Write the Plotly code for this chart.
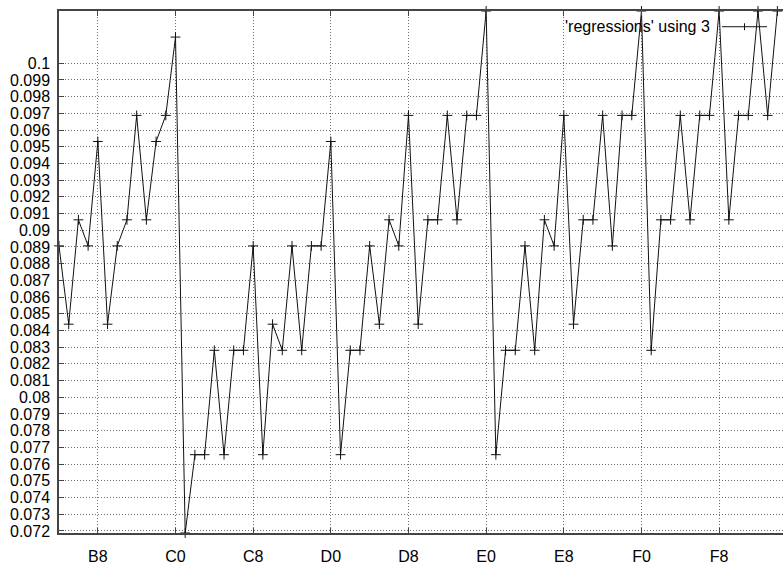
import numpy as np
import plotly.graph_objects as go

# ---- data ----
x_values = list(range(180, 255))  # 0xB4 .. 0xFE
y_values = [
    0.089063, 0.084375, 0.090625, 0.089063, 0.095313, 0.084375, 0.089063, 0.090625,
    0.096875, 0.090625, 0.095313, 0.096875, 0.101563, 0.071875, 0.076563, 0.076563,
    0.082813, 0.076563, 0.082813, 0.082813, 0.089063, 0.076563, 0.084375, 0.082813,
    0.089063, 0.082813, 0.089063, 0.089063, 0.095313, 0.076563, 0.082813, 0.082813,
    0.089063, 0.084375, 0.090625, 0.089063, 0.096875, 0.084375, 0.090625, 0.090625,
    0.096875, 0.090625, 0.096875, 0.096875, 0.103125, 0.076563, 0.082813, 0.082813,
    0.089063, 0.082813, 0.090625, 0.089063, 0.096875, 0.084375, 0.090625, 0.090625,
    0.096875, 0.089063, 0.096875, 0.096875, 0.103125, 0.082813, 0.090625, 0.090625,
    0.096875, 0.090625, 0.096875, 0.096875, 0.103125, 0.090625, 0.096875, 0.096875,
    0.103125, 0.096875, 0.103125,
]
x_tick_vals = [184, 192, 200, 208, 216, 224, 232, 240, 248]
x_tick_text = ["B8", "C0", "C8", "D0", "D8", "E0", "E8", "F0", "F8"]
y_tick_vals = [round(0.072 + 0.001 * i, 3) for i in range(29)]
y_tick_text = ["%g" % v for v in y_tick_vals]
series_name = "'regressions' using 3"

W, H = 783, 565
L, R, T, B = 59, 0, 11, 23
FONT = dict(family="Liberation Sans, Arial, sans-serif", size=16, color="#000000")

fig = go.Figure()
fig.add_trace(go.Scatter(
    x=x_values, y=y_values, mode="lines+markers", name=series_name,
    line=dict(color="#111111", width=1),
    marker=dict(symbol="cross-thin", size=7, line=dict(color="#111111", width=1)),
    cliponaxis=False, showlegend=False,
))

grid = dict(showgrid=True, gridcolor="#6e6e6e", gridwidth=1, griddash="1px,2px")
fig.update_xaxes(
    range=[180, 180 + (W - L - R) / 9.708],
    tickmode="array", tickvals=x_tick_vals, ticktext=x_tick_text,
    ticks="inside", ticklen=5, tickcolor="#444", tickwidth=1,
    showline=True, linecolor="#444", linewidth=1.5, mirror="ticks",
    zeroline=False, tickfont=FONT, ticklabelstandoff=8, **grid,
)
fig.update_yaxes(
    range=[0.071875, 0.103125],
    tickmode="array", tickvals=y_tick_vals, ticktext=y_tick_text,
    ticks="inside", ticklen=5, tickcolor="#444", tickwidth=1,
    showline=True, linecolor="#444", linewidth=1.5, mirror=False,
    zeroline=False, tickfont=FONT, ticklabelstandoff=4, **grid,
)

# gnuplot-style key: text right-justified, then the sample
pw, ph = W - L - R, H - T - B
def px(xp):
    return (xp - L) / pw
def py(yp):
    return 1 - (yp - T) / ph

key_y = py(27)
fig.add_annotation(x=px(712), y=key_y, xref="paper", yref="paper", text=series_name,
                   showarrow=False, xanchor="right", yanchor="middle", font=FONT)
fig.add_shape(type="line", xref="paper", yref="paper", x0=px(722), x1=px(767), y0=key_y, y1=key_y,
              line=dict(color="#111111", width=1))
fig.add_shape(type="line", xref="paper", yref="paper", x0=px(744.5), x1=px(744.5),
              y0=py(23.5), y1=py(30.5), line=dict(color="#111111", width=1))

fig.update_layout(
    width=W, height=H, margin=dict(l=L, r=R, t=T, b=B, pad=0),
    paper_bgcolor="white", plot_bgcolor="white", font=FONT, showlegend=False,
)
fig.write_html("out.html")
